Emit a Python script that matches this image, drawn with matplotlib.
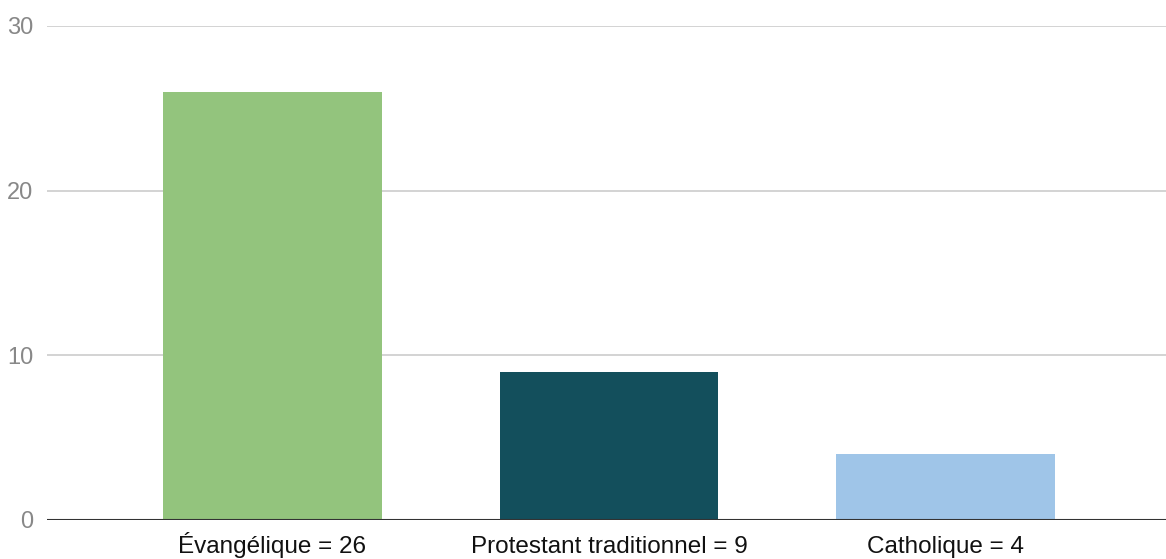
import numpy as np
import matplotlib.pyplot as plt

# Data
categories = ['Évangélique = 26', 'Protestant traditionnel = 9', 'Catholique = 4']
values = [26, 9, 4]
colors = ['#93c47d', '#134f5c', '#9fc5e8']
yticks = [0, 10, 20, 30]

plt.rcParams['font.family'] = ['Liberation Sans', 'DejaVu Sans']

fig = plt.figure(figsize=(11.66, 5.59), dpi=100)
ax = fig.add_axes([0.0403, 0.0698, 0.9597, 0.8837])

x = np.arange(len(categories))
ax.bar(x, values, width=0.65, color=colors, zorder=3)

ax.set_ylim(0, 30)
ax.set_xlim(-0.67, 2.655)
ax.set_yticks(yticks)
ax.set_xticks(x)
ax.set_xticklabels(categories, va='baseline')

# grid lines and baseline
ax.yaxis.grid(True, color='#cccccc', linewidth=1.2, zorder=0)
ax.axhline(0, color='#333333', linewidth=1.5, zorder=4)
for s in ax.spines.values():
    s.set_visible(False)

ax.tick_params(axis='y', length=0, pad=10, labelsize=17, labelcolor='#888888')
ax.tick_params(axis='x', length=0, pad=24, labelsize=17.5, labelcolor='#111111')

fig.savefig('out.png', dpi=100)
